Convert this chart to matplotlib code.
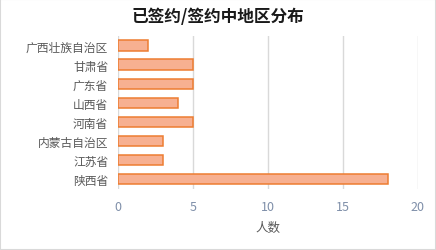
import matplotlib.pyplot as plt
from matplotlib.patches import Rectangle

plt.rcParams['font.family'] = ['Noto Sans CJK SC', 'DejaVu Sans']

regions = ['广西壮族自治区', '甘肃省', '广东省', '山西省', '河南省', '内蒙古自治区', '江苏省', '陕西省']
counts = [2, 5, 5, 4, 5, 3, 3, 18]
xticks = [0, 5, 10, 15, 20]

fig = plt.figure(figsize=(4.36, 2.51), dpi=100)
ax = fig.add_axes([0.2706, 0.245, 0.688, 0.607])

y = list(range(len(regions)))[::-1]
ax.barh(y, counts, height=0.55, color='#F7B091', edgecolor='#ED7D31', linewidth=1.1, zorder=3)

ax.set_xlim(0, 20)
ax.set_ylim(-0.5, len(regions) - 0.5)
ax.set_xticks(xticks)
ax.set_yticks(y)
ax.set_yticklabels(regions)
ax.grid(axis='x', color='#D9D9D9', linewidth=1, zorder=0)
for s in ax.spines.values():
    s.set_visible(False)
ax.tick_params(axis='both', length=0, colors='#595959', labelsize=8.5)
ax.tick_params(axis='x', pad=8, labelcolor='#7F8FA9', labelsize=9)
ax.tick_params(axis='y', pad=7)
ax.set_xlabel('人数', color='#595959', fontsize=9, labelpad=6)

fig.suptitle('已签约/签约中地区分布', x=0.5, y=0.97, fontsize=12, fontweight='bold', color='#1a1a1a')
fig.patches.append(Rectangle((0, 0), 1, 1, transform=fig.transFigure, fill=False,
                             edgecolor='#D9D9D9', linewidth=1.5))

fig.savefig('out.png', dpi=100)
